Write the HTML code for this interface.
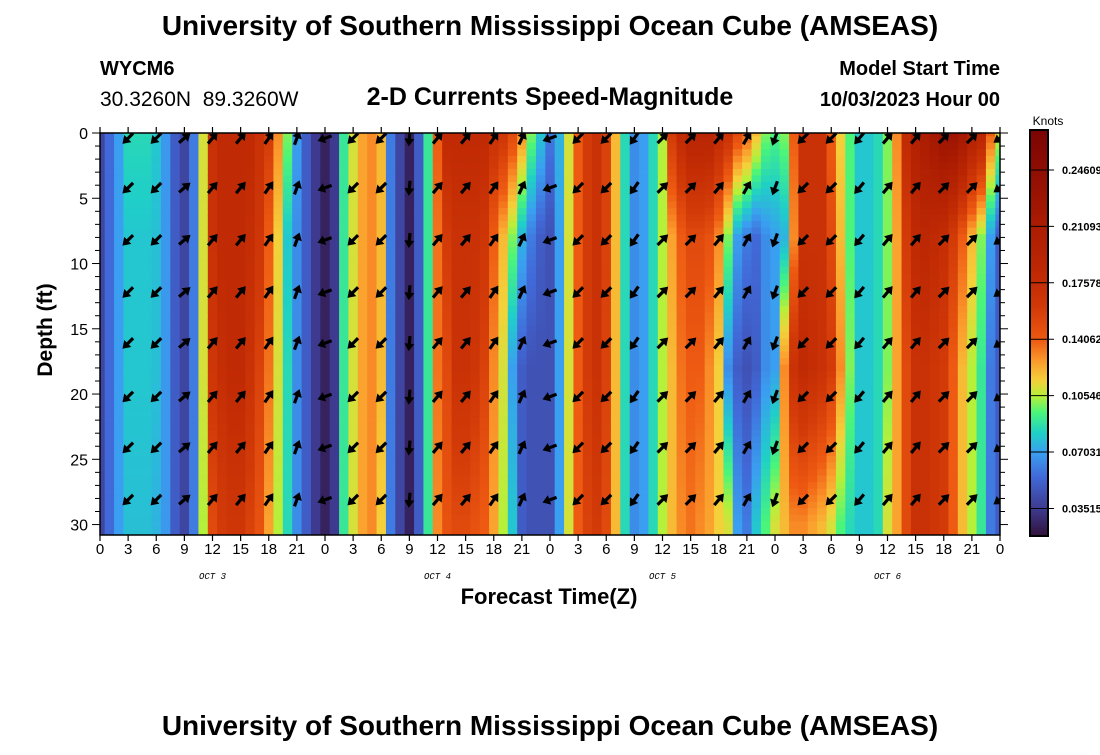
<!DOCTYPE html>
<html><head><meta charset="utf-8">
<style>
html,body{margin:0;padding:0;background:#fff;}
body{width:1100px;height:750px;overflow:hidden;font-family:"Liberation Sans",Arial,sans-serif;}
svg text{font-family:"Liberation Sans",Arial,sans-serif;}
</style></head>
<body>
<svg id="chart" width="1100" height="750" xmlns="http://www.w3.org/2000/svg">
<rect width="1100" height="750" fill="#fff"/>
<text x="550" y="35" font-size="28" font-weight="bold" text-anchor="middle">University of Southern Mississippi Ocean Cube (AMSEAS)</text>
<text x="100" y="75" font-size="20" font-weight="bold">WYCM6</text>
<text x="100" y="106" font-size="21" style="white-space:pre" xml:space="preserve">30.3260N  89.3260W</text>
<text x="550" y="105" font-size="25" font-weight="bold" text-anchor="middle">2-D Currents Speed-Magnitude</text>
<text x="1000" y="75" font-size="20" font-weight="bold" text-anchor="end">Model Start Time</text>
<text x="1000" y="106" font-size="20" font-weight="bold" text-anchor="end">10/03/2023 Hour 00</text>
<text transform="translate(52,330) rotate(-90)" font-size="21" font-weight="bold" text-anchor="middle">Depth (ft)</text>
<text x="549" y="604" font-size="22" font-weight="bold" text-anchor="middle">Forecast Time(Z)</text>
<text x="550" y="735" font-size="28" font-weight="bold" text-anchor="middle">University of Southern Mississippi Ocean Cube (AMSEAS)</text>
<defs><clipPath id="plotclip"><rect x="100" y="133" width="900" height="402"/></clipPath></defs>
<g id="heat" clip-path="url(#plotclip)"></g>
<g id="arrows" clip-path="url(#plotclip)"></g>
<g id="axes"></g>
<g id="cbar"></g>
</svg>
<script>
// speed (knots) per forecast hour 0..96 at depths 0, 8, 18, 30 ft
const depthLevels = [0, 8, 18, 30];
const speedD0 = [.04,.055,.07,.085,.085,.085,.08,.068,.05,.04,.06,.11,.17,.18,.18,.18,.18,.17,.16,.13,.1,.07,.05,.035,.025,.035,.09,.11,.125,.13,.12,.06,.04,.025,.05,.09,.14,.18,.18,.18,.18,.18,.17,.165,.15,.13,.1,.08,.06,.075,.11,.14,.16,.17,.155,.12,.085,.065,.07,.085,.105,.16,.18,.19,.19,.19,.18,.17,.15,.14,.12,.1,.095,.1,.14,.17,.17,.17,.14,.115,.095,.08,.08,.085,.1,.13,.18,.2,.21,.22,.23,.23,.22,.2,.19,.14,.11];
const speedD8 = [.04,.055,.07,.08,.08,.08,.078,.068,.05,.04,.06,.11,.17,.18,.18,.18,.175,.165,.14,.115,.08,.065,.05,.035,.025,.035,.09,.11,.125,.13,.12,.06,.04,.025,.05,.09,.135,.16,.17,.17,.17,.165,.14,.12,.1,.075,.06,.05,.045,.07,.11,.14,.16,.17,.155,.12,.085,.065,.07,.085,.105,.125,.14,.15,.15,.145,.13,.1,.07,.06,.055,.065,.07,.075,.13,.17,.17,.17,.15,.12,.095,.08,.08,.085,.1,.125,.16,.18,.185,.18,.175,.16,.14,.12,.1,.07,.05];
const speedD18 = [.04,.055,.07,.08,.08,.08,.078,.068,.05,.04,.06,.11,.165,.175,.18,.18,.17,.155,.135,.11,.085,.065,.05,.035,.025,.035,.09,.11,.125,.13,.12,.06,.04,.025,.05,.09,.135,.15,.17,.17,.165,.155,.13,.11,.07,.05,.045,.045,.045,.07,.11,.14,.16,.17,.155,.12,.085,.065,.07,.085,.105,.12,.135,.14,.14,.13,.115,.065,.05,.045,.05,.065,.07,.13,.17,.18,.175,.17,.16,.13,.1,.08,.08,.085,.1,.125,.15,.17,.17,.165,.16,.14,.12,.105,.09,.06,.05];
const speedD30 = [.04,.055,.07,.078,.078,.078,.075,.068,.05,.04,.06,.105,.15,.16,.165,.165,.155,.145,.125,.105,.085,.065,.05,.035,.025,.035,.09,.11,.125,.13,.115,.06,.04,.025,.05,.09,.13,.145,.15,.15,.145,.14,.125,.105,.08,.05,.045,.045,.045,.07,.11,.14,.155,.16,.15,.12,.085,.065,.07,.085,.105,.12,.13,.135,.13,.125,.115,.11,.07,.06,.08,.095,.11,.12,.13,.13,.125,.12,.11,.095,.085,.08,.08,.085,.11,.125,.15,.17,.17,.165,.16,.14,.12,.105,.09,.06,.05];
// vectors every 3 h (hours 3..96), direction in degrees (0=east, 90=north)
const arrowHours = [3,6,9,12,15,18,21,24,27,30,33,36,39,42,45,48,51,54,57,60,63,66,69,72,75,78,81,84,87,90,93,96];
const arrowDir = [225,225,40,50,50,55,70,200,225,225,265,50,50,55,65,200,225,225,235,45,45,50,60,250,225,225,230,50,50,45,45,215];
const arrowDepths = [0.4,4.2,8.2,12.2,16.1,20.2,24.1,28.1];
const cbTicks = [0.03515,0.07031,0.10546,0.14062,0.17578,0.21093,0.24609];
const cbLabels = ["0.03515","0.07031","0.10546","0.14062","0.17578","0.21093","0.24609"];
const xTickLabels = ["0","3","6","9","12","15","18","21"];
const dayLabels = ["OCT 3","OCT 4","OCT 5","OCT 6"];
const yTicks = [0,5,10,15,20,25,30];

const NS="http://www.w3.org/2000/svg";
const X0=100,X1=1000,Y0=133,Y1=535,DMAX=30.8,HMAX=96;
const xs=h=>X0+(h/HMAX)*(X1-X0);
const ys=d=>Y0+(d/DMAX)*(Y1-Y0);
const VMIN=0.018,VMAX=0.271,CB0=130,CB1=536;
const cy=v=>CB1-(v-VMIN)/(VMAX-VMIN)*(CB1-CB0);
const stops=[[0.018,[48,18,59]],[0.035,[62,58,143]],[0.055,[65,105,216]],[0.07,[58,159,240]],[0.082,[31,207,200]],[0.095,[74,245,122]],[0.105,[181,240,58]],[0.115,[244,208,58]],[0.127,[251,154,44]],[0.14,[238,90,18]],[0.16,[210,58,8]],[0.18,[192,42,4]],[0.215,[168,26,2]],[0.271,[122,4,3]]];
function color(v){
  if(v<=stops[0][0]) return `rgb(${stops[0][1]})`;
  for(let i=1;i<stops.length;i++){
    if(v<=stops[i][0]){const a=stops[i-1],b=stops[i],t=(v-a[0])/(b[0]-a[0]);
      return `rgb(${a[1].map((c,k)=>Math.round(c+(b[1][k]-c)*t)).join(",")})`;}
  }
  return `rgb(${stops[stops.length-1][1]})`;
}
function el(tag,attrs,parent){const e=document.createElementNS(NS,tag);for(const k in attrs)e.setAttribute(k,attrs[k]);parent.appendChild(e);return e;}
const cols=[speedD0,speedD8,speedD18,speedD30];
function speedAt(h,d){
  let i=0;while(i<depthLevels.length-2&&d>depthLevels[i+1])i++;
  const t=Math.min(1,Math.max(0,(d-depthLevels[i])/(depthLevels[i+1]-depthLevels[i])));
  return cols[i][h]+(cols[i+1][h]-cols[i][h])*t;
}
const heat=document.getElementById('heat');
const dStep=0.5;
for(let h=0;h<=HMAX;h++){
  for(let d=0;d<DMAX+dStep;d+=dStep){
    const r=el('rect',{x:xs(h-0.5),y:ys(d-dStep/2),width:xs(1)-xs(0)+0.6,height:ys(dStep)-ys(0)+0.6,fill:color(speedAt(h,d))},heat);
    
    
  }
}
const arr=document.getElementById('arrows');
arrowHours.forEach((h,i)=>{
  arrowDepths.forEach(d=>{
    const cx=xs(h),cyy=ys(d),a=arrowDir[i]*Math.PI/180,L=7;
    const dx=Math.cos(a),dy=-Math.sin(a);
    const g=el('g',{},arr);
    
    
    const tx=cx+dx*L,ty=cyy+dy*L;
    el('line',{x1:cx-dx*L,y1:cyy-dy*L,x2:tx-dx*3,y2:ty-dy*3,stroke:'#000','stroke-width':3.2},g);
    const px=-dy,py=dx;
    el('polygon',{points:`${tx+dx*1},${ty+dy*1} ${tx-dx*6.5+px*5},${ty-dy*6.5+py*5} ${tx-dx*6.5-px*5},${ty-dy*6.5-py*5}`,fill:'#000'},g);
  });
});
const ax=document.getElementById('axes');
el('rect',{x:X0,y:Y0,width:X1-X0,height:Y1-Y0,fill:'none',stroke:'#000','stroke-width':1.5},ax);
for(let h=0;h<=HMAX;h+=3){
  el('line',{x1:xs(h),y1:Y0,x2:xs(h),y2:Y0-6,stroke:'#000','stroke-width':1.2},ax);
  el('line',{x1:xs(h),y1:Y1,x2:xs(h),y2:Y1+6,stroke:'#000','stroke-width':1.2},ax);
  const t=el('text',{x:xs(h),y:Y1+19,'font-size':15,'text-anchor':'middle'},ax);
  t.textContent=xTickLabels[(h%24)/3];
  
  
}
dayLabels.forEach((s,i)=>{
  const t=el('text',{x:xs(12+24*i),y:579,'font-size':9,'font-style':'italic','text-anchor':'middle',style:'font-family:"Liberation Mono",monospace'},ax);
  t.textContent=s;
  
  
});
for(let d=0;d<=30;d++){
  const len=d%5===0?8:5;
  el('line',{x1:X0,y1:ys(d),x2:X0-len,y2:ys(d),stroke:'#000','stroke-width':1},ax);
  el('line',{x1:X1,y1:ys(d),x2:X1+len,y2:ys(d),stroke:'#000','stroke-width':1},ax);
}
yTicks.forEach(d=>{
  const t=el('text',{x:X0-12,y:ys(d)+6,'font-size':16,'text-anchor':'end'},ax);
  t.textContent=d;
  
  
});
const cb=document.getElementById('cbar');
const kt=el('text',{x:1048,y:125,'font-size':12,'text-anchor':'middle'},cb);kt.textContent='Knots';


for(let y=CB0;y<CB1;y+=2){
  const v=VMIN+(CB1-y-1)/(CB1-CB0)*(VMAX-VMIN);
  el('rect',{x:1030,y:y,width:18,height:2.3,fill:color(v)},cb);
}
el('rect',{x:1030,y:CB0,width:18,height:CB1-CB0,fill:'none',stroke:'#000','stroke-width':2},cb);
cbTicks.forEach((v,i)=>{
  el('line',{x1:1030,y1:cy(v),x2:1054,y2:cy(v),stroke:'#000','stroke-width':1},cb);
  const t=el('text',{x:1062,y:cy(v)+4,'font-size':11,'font-weight':'bold'},cb);
  t.textContent=cbLabels[i];
  
  
});
</script>
</body></html>
